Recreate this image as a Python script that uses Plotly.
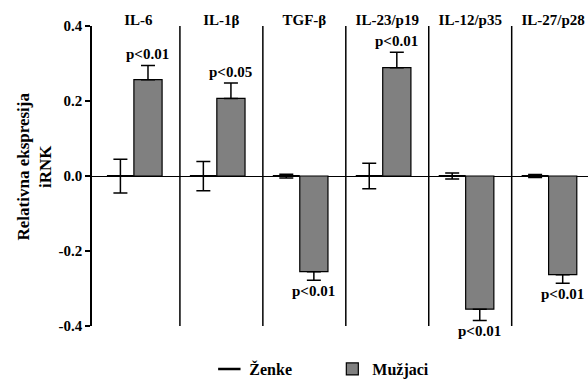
import plotly.graph_objects as go

# ---- data ----
CATEGORIES = ["IL-6", "IL-1β", "TGF-β", "IL-23/p19", "IL-12/p35", "IL-27/p28"]
ZENKE = [0.0, 0.0, 0.0, 0.0, 0.0, 0.0]
ZENKE_ERR = [0.045, 0.039, 0.005, 0.034, 0.008, 0.004]
MUZJACI = [0.257, 0.207, -0.255, 0.289, -0.355, -0.263]
MUZJACI_ERR = [0.038, 0.041, 0.023, 0.041, 0.030, 0.023]
P_LABELS = ["p<0.01", "p<0.05", "p<0.01", "p<0.01", "p<0.01", "p<0.01"]
Y_TICKS = [-0.4, -0.2, 0.0, 0.2, 0.4]
Y_TICK_LABELS = ["-0.4", "-0.2", "0.0", "0.2", "0.4"]

FONT = "Liberation Serif"
W_OFF, W_WID = -0.38, 0.325
M_OFF, M_WID = -0.055, 0.34

fig = go.Figure()

# women: zero-height bars drawn as their outline + symmetric error bars
fig.add_trace(go.Bar(
    x=CATEGORIES, y=ZENKE, name="Ženke", showlegend=False,
    offset=W_OFF, width=W_WID,
    marker=dict(color="black", line=dict(color="black", width=2)),
    error_y=dict(type="data", array=ZENKE_ERR, symmetric=True,
                 color="black", thickness=1.5, width=7),
))

plus = [e if v > 0 else 0 for v, e in zip(MUZJACI, MUZJACI_ERR)]
minus = [e if v < 0 else 0 for v, e in zip(MUZJACI, MUZJACI_ERR)]
fig.add_trace(go.Bar(
    x=CATEGORIES, y=MUZJACI, name="Mužjaci",
    offset=M_OFF, width=M_WID,
    marker=dict(color="#808080", line=dict(color="black", width=1.2)),
    error_y=dict(type="data", symmetric=False, array=plus, arrayminus=minus,
                 color="black", thickness=1.5, width=7),
))

# legend entry for women (line symbol)
fig.add_trace(go.Scatter(
    x=[None], y=[None], mode="markers", name="Ženke",
    marker=dict(symbol="line-ew", size=16, line=dict(color="black", width=2.5)),
))

# significance labels
for cat, v, e, p in zip(CATEGORIES, MUZJACI, MUZJACI_ERR, P_LABELS):
    top = v + e if v > 0 else v - e
    fig.add_annotation(
        x=cat, y=top, text=p, showarrow=False,
        xshift=(M_OFF + M_WID / 2) * 83,
        yanchor="bottom" if v > 0 else "top",
        yshift=1 if v > 0 else -1,
        font=dict(family=FONT, size=15, color="black", weight="bold"),
    )

# group dividers
for i in range(len(CATEGORIES) - 1):
    fig.add_shape(type="line", xref="x", yref="y",
                  x0=i + 0.5, x1=i + 0.5, y0=-0.4, y1=0.4,
                  line=dict(color="black", width=1.5))

# y title
fig.add_annotation(
    xref="paper", yref="paper", x=0, y=0.53, xshift=-58.5,
    xanchor="center", yanchor="middle",
    text="Relativna ekspresija<br>iRNK", textangle=-90, showarrow=False,
    font=dict(family=FONT, size=17, color="black", weight="bold"),
)

fig.update_layout(
    template="none",
    width=588, height=379,
    margin=dict(l=92, r=0, t=26, b=53, autoexpand=False),
    paper_bgcolor="white", plot_bgcolor="white",
    barmode="overlay",
    showlegend=True,
    font=dict(family=FONT, color="black"),
    legend=dict(orientation="h", xref="container", x=0.356, xanchor="left",
                yref="container", y=0.0264, yanchor="middle",
                font=dict(family=FONT, size=16, color="black", weight="bold"),
                traceorder="reversed", itemwidth=30, entrywidth=78,
                bgcolor="rgba(0,0,0,0)"),
    xaxis=dict(type="category", side="top", range=[-0.56, 5.42], automargin=False,
               showline=False, showgrid=False, ticks="", zeroline=False,
               ticklabelstandoff=-3,
               tickfont=dict(family=FONT, size=15, color="black", weight="bold")),
    yaxis=dict(range=[-0.4, 0.4], tickvals=Y_TICKS, ticktext=Y_TICK_LABELS, automargin=False,
               showline=True, linecolor="black", linewidth=1.5,
               ticks="outside", ticklen=5, tickwidth=1.5, tickcolor="black",
               showgrid=False, zeroline=True, zerolinecolor="black", zerolinewidth=1,
               tickfont=dict(family=FONT, size=15, color="black", weight="bold")),
)

fig.write_html("out.html", config={"displayModeBar": False},
               post_script="document.body.style.margin='0';document.body.style.overflow='hidden';")
